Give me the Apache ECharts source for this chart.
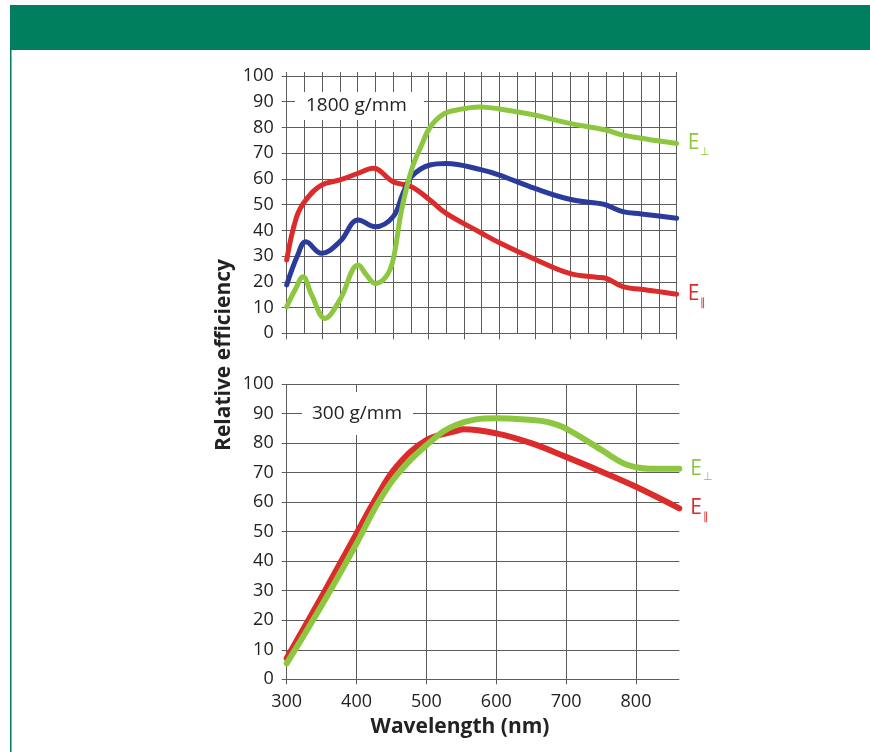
<!DOCTYPE html>
<html>
<head>
<meta charset="utf-8">
<script src="https://cdn.jsdelivr.net/npm/echarts@6/dist/echarts.min.js"></script>
<style>
html,body{margin:0;padding:0;background:#fff;}
#c{width:870px;height:752px;}
</style>
</head>
<body>
<div id="c"></div>
<script>
// ---- Data: 1800 g/mm grating ----
const topPerpWl   = [300, 312, 323, 335, 354, 375, 401, 413, 425, 440, 450, 462, 476, 490, 502, 520, 540, 572, 600, 650, 699, 750, 774, 800, 825, 850];
const topPerpEff  = [10.3, 17, 22, 15, 5.8, 13, 26.5, 22.5, 19.4, 22, 28.5, 48, 63.5, 73, 80, 85, 86.8, 88, 87.2, 84.8, 81.6, 79, 77, 75.8, 74.7, 73.8];
const topBlueWl   = [300, 315, 327, 349, 375, 401, 425, 450, 464, 476, 502, 525, 575, 600, 650, 699, 740, 750, 774, 800, 825, 850];
const topBlueEff  = [18.8, 30, 35.6, 31.1, 35.6, 44, 41.4, 45.3, 54.4, 60.9, 65.4, 66, 63.5, 61.5, 56.3, 52.1, 50.5, 49.9, 47.3, 46.4, 45.6, 44.7];
const topParWl    = [300, 314, 327, 349, 375, 401, 422, 450, 476, 502, 525, 575, 600, 650, 699, 737, 750, 774, 800, 825, 850];
const topParEff   = [28.5, 45.3, 51.8, 57.6, 59.6, 62.2, 64.1, 58.9, 57, 51.8, 46.6, 38.9, 35.2, 28.8, 23.3, 21.8, 21.4, 18.1, 17.1, 16.2, 15.2];
// ---- Data: 300 g/mm grating ----
const botParWl    = [300, 350, 400, 429, 457, 500, 543, 553, 600, 651, 699, 751, 800, 862];
const botParEff   = [7.1, 28, 49.4, 61.8, 72, 81, 84.1, 84.7, 83.3, 79.9, 75.4, 70.3, 65.2, 57.9];
const botPerpWl   = [300, 350, 400, 429, 457, 500, 543, 600, 651, 672, 699, 751, 782, 800, 820, 862];
const botPerpEff  = [5.4, 25, 46, 59, 69, 79.3, 86.2, 88.4, 87.8, 87.2, 85, 77.6, 73.1, 71.8, 71.3, 71.3];
// ---- Text ----
const topTitle = '1800 g/mm';
const botTitle = '300 g/mm';
const yLabel = 'Relative efficiency';
const xLabel = 'Wavelength (nm)';
const perpLabel = '{e|E}{s|⊥}';
const parLabel = '{e|E}{s|∥}';

const zip = (a, b) => a.map((v, i) => [v, b[i]]);

const GREEN = '#8dc63f', RED = '#dc2b2b', BLUE = '#2b3b9c', GRID = '#5c5c5c', TXT = '#222';
const FONT = 'Open Sans';

const chart = echarts.init(document.getElementById('c'), null, {renderer: 'canvas'});

function rich(color) {
  return {
    e: {fontSize: 21, fontFamily: FONT, color: color, lineHeight: 22},
    s: {fontSize: 11, fontFamily: FONT, color: color, padding: [17, 0, 0, 1], lineHeight: 12}
  };
}

function line(name, wl, eff, color, xi, yi, width, lbl) {
  const s = {
    name: name, type: 'line', xAxisIndex: xi, yAxisIndex: yi,
    data: zip(wl, eff), smooth: 0.4, showSymbol: false, symbol: 'none',
    lineStyle: {color: color, width: width, cap: 'round', join: 'round'},
    itemStyle: {color: color}, silent: true, animation: false
  };
  if (lbl) {
    s.endLabel = {show: true, formatter: lbl, distance: 11, rich: rich(color), color: color};
  }
  return s;
}

const splitStyle = {show: true, lineStyle: {color: GRID, width: 1}};
const tickStyle = {lineStyle: {color: GRID, width: 1}};
const axisLabelStyle = {color: TXT, fontSize: 18, fontFamily: FONT};

const option = {
  backgroundColor: '#fff',
  animation: false,
  title: [
    {text: topTitle, left: 295, top: 92, backgroundColor: '#fff', padding: [4, 17, 4, 11],
     textStyle: {fontSize: 19, fontWeight: 'normal', color: TXT, fontFamily: FONT, lineHeight: 20}},
    {text: botTitle, left: 302, top: 392, backgroundColor: '#fff', padding: [12, 11, 11, 10],
     textStyle: {fontSize: 19, fontWeight: 'normal', color: TXT, fontFamily: FONT, lineHeight: 20}}
  ],
  grid: [
    {left: 286.7, top: 76, width: 390, height: 257.3, containLabel: false},
    {left: 286.7, top: 384, width: 392.6, height: 295.3, containLabel: false}
  ],
  xAxis: [
    {type: 'value', gridIndex: 0, min: 300, max: 850, interval: 50,
     axisLine: {show: false}, axisLabel: {show: false},
     axisTick: {show: true, length: 6, ...tickStyle},
     splitLine: splitStyle,
     minorTick: {show: false, splitNumber: 2},
     minorSplitLine: {show: true, lineStyle: {color: GRID, width: 1}}},
    {type: 'value', gridIndex: 0, position: 'top', min: 300, max: 850, interval: 25,
     axisLine: {show: false}, axisLabel: {show: false},
     axisTick: {show: true, length: 4, ...tickStyle}, splitLine: {show: false}},
    {type: 'value', gridIndex: 1, min: 300, max: 862, interval: 100,
     axisLine: {show: false},
     axisLabel: {...axisLabelStyle, margin: 14, showMaxLabel: false,
                 formatter: v => (v % 100 === 0 ? String(v) : '')},
     axisTick: {show: true, length: 5, ...tickStyle},
     splitLine: {show: true, showMaxLine: false, lineStyle: {color: GRID, width: 1}}}
  ],
  yAxis: [
    {type: 'value', gridIndex: 0, min: 0, max: 100, interval: 10,
     axisLine: {show: false}, axisTick: {show: true, length: 5, ...tickStyle},
     axisLabel: {...axisLabelStyle, margin: 13}, splitLine: splitStyle},
    {type: 'value', gridIndex: 1, min: 0, max: 100, interval: 10,
     axisLine: {show: false}, axisTick: {show: true, length: 5, ...tickStyle},
     axisLabel: {...axisLabelStyle, margin: 13}, splitLine: splitStyle}
  ],
  series: [
    line('E∥ 1800', topParWl, topParEff, RED, 0, 0, 5, parLabel),
    line('blue 1800', topBlueWl, topBlueEff, BLUE, 0, 0, 5, null),
    line('E⊥ 1800', topPerpWl, topPerpEff, GREEN, 0, 0, 5, perpLabel),
    line('E∥ 300', botParWl, botParEff, RED, 2, 1, 6, parLabel),
    line('E⊥ 300', botPerpWl, botPerpEff, GREEN, 2, 1, 6, perpLabel)
  ],
  graphic: [
    {type: 'rect', shape: {x: 10, y: 5, width: 860, height: 45}, style: {fill: '#007f5f'}, z: 100},
    {type: 'rect', shape: {x: 10, y: 50, width: 1.5, height: 702}, style: {fill: '#007f5f'}, z: 100},
    {type: 'text', x: 224, y: 355, rotation: Math.PI / 2,
     style: {text: yLabel, fill: TXT, font: 'bold 21px "Open Sans"', textAlign: 'center', textVerticalAlign: 'middle'}, z: 100},
    {type: 'text', x: 460, y: 727,
     style: {text: xLabel, fill: TXT, font: 'bold 21px "Open Sans"', textAlign: 'center', textVerticalAlign: 'middle'}, z: 100}
  ]
};
chart.setOption(option);
</script>
</body>
</html>
